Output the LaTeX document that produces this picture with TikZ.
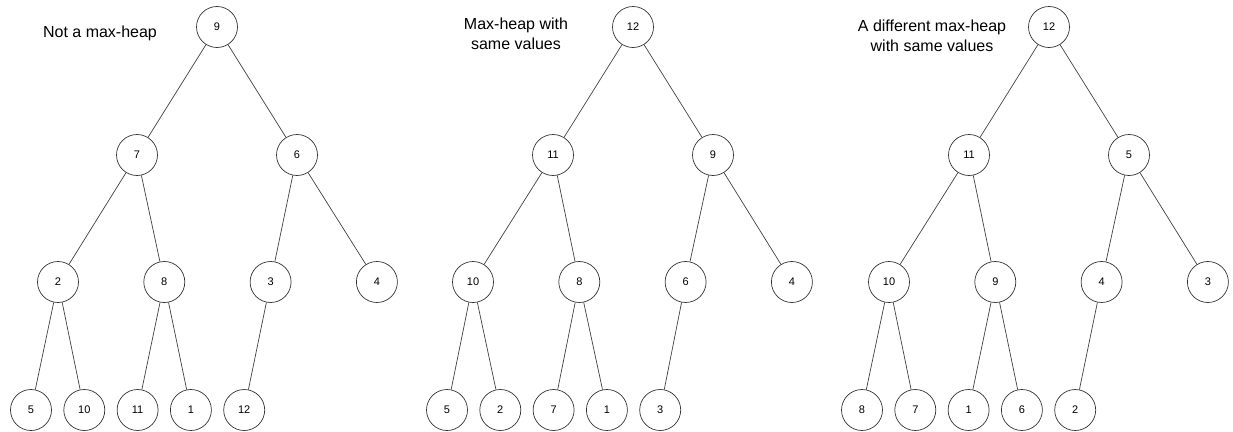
\documentclass[tikz,border=0pt]{standalone}
\usepackage{fontspec}
\setmainfont{Liberation Sans}
\usepackage{tikz}
\usetikzlibrary{positioning}

\begin{document}
\begin{tikzpicture}[
            x=1pt, y=-1pt,
            node distance=11.6pt,
            heapnode/.style = {draw=black!80, circle, line width=0.7pt, minimum size=41pt, inner sep=0pt, font=\fontsize{11}{13}\selectfont},
            caption/.style = {align=center, font=\fontsize{16}{20}\selectfont},
            edge/.style = {draw=black!75, line width=0.7pt}
          ]
          \useasboundingbox (0,0) rectangle (1233,431);

          % first tree: 9 on top
          \node[caption] (t1_caption) at (100,33) {Not a max-heap};
          \node[heapnode] (t1_1) at (217,27) {9};
          \node[heapnode] (t1_2) at (137,155) {7};
          \node[right=of t1_2, xshift=106.7, heapnode] (t1_3) {6};
          \node[heapnode] (t1_4) at (58,282) {2};
          \node[right=of t1_4, xshift=53, heapnode] (t1_5) {8};
          \node[right=of t1_5, xshift=53, heapnode] (t1_6) {3};
          \node[right=of t1_6, xshift=53, heapnode] (t1_7) {4};
          \node[heapnode] (t1_8) at (31,410) {5};
          \node[right=of t1_8, heapnode] (t1_9) {10};
          \node[right=of t1_9, heapnode] (t1_10) {11};
          \node[right=of t1_10, heapnode] (t1_11) {1};
          \node[right=of t1_11, heapnode] (t1_12) {12};

          \draw[edge] (t1_1) -- (t1_2);
          \draw[edge] (t1_1) -- (t1_3);
          \draw[edge] (t1_2) -- (t1_4);
          \draw[edge] (t1_2) -- (t1_5);
          \draw[edge] (t1_3) -- (t1_6);
          \draw[edge] (t1_3) -- (t1_7);
          \draw[edge] (t1_4) -- (t1_8);
          \draw[edge] (t1_4) -- (t1_9);
          \draw[edge] (t1_5) -- (t1_10);
          \draw[edge] (t1_5) -- (t1_11);
          \draw[edge] (t1_6) -- (t1_12);

          % second tree
          \begin{scope}[xshift=416]
          \node[caption] (t2_caption) at (100,34) {Max-heap with\\ same values};
          \node[heapnode] (t2_1) at (217,27) {12};
          \node[heapnode] (t2_2) at (137,155) {11};
          \node[right=of t2_2, xshift=106.7, heapnode] (t2_3) {9};
          \node[heapnode] (t2_4) at (57,282) {10};
          \node[right=of t2_4, xshift=53, heapnode] (t2_5) {8};
          \node[right=of t2_5, xshift=53, heapnode] (t2_6) {6};
          \node[right=of t2_6, xshift=53, heapnode] (t2_7) {4};
          \node[heapnode] (t2_8) at (31,410) {5};
          \node[right=of t2_8, heapnode] (t2_9) {2};
          \node[right=of t2_9, heapnode] (t2_10) {7};
          \node[right=of t2_10, heapnode] (t2_11) {1};
          \node[right=of t2_11, heapnode] (t2_12) {3};

          \draw[edge] (t2_1) -- (t2_2);
          \draw[edge] (t2_1) -- (t2_3);
          \draw[edge] (t2_2) -- (t2_4);
          \draw[edge] (t2_2) -- (t2_5);
          \draw[edge] (t2_3) -- (t2_6);
          \draw[edge] (t2_3) -- (t2_7);
          \draw[edge] (t2_4) -- (t2_8);
          \draw[edge] (t2_4) -- (t2_9);
          \draw[edge] (t2_5) -- (t2_10);
          \draw[edge] (t2_5) -- (t2_11);
          \draw[edge] (t2_6) -- (t2_12);
          \end{scope}

          % third tree
          \begin{scope}[xshift=832]
          \node[caption] (t3_caption) at (100,36) {A different max-heap\\ with same values};
          \node[heapnode] (t3_1) at (217,27) {12};
          \node[heapnode] (t3_2) at (137,155) {11};
          \node[right=of t3_2, xshift=106.7, heapnode] (t3_3) {5};
          \node[heapnode] (t3_4) at (57,282) {10};
          \node[right=of t3_4, xshift=53, heapnode] (t3_5) {9};
          \node[right=of t3_5, xshift=53, heapnode] (t3_6) {4};
          \node[right=of t3_6, xshift=53, heapnode] (t3_7) {3};
          \node[heapnode] (t3_8) at (30,410) {8};
          \node[right=of t3_8, heapnode] (t3_9) {7};
          \node[right=of t3_9, heapnode] (t3_10) {1};
          \node[right=of t3_10, heapnode] (t3_11) {6};
          \node[right=of t3_11, heapnode] (t3_12) {2};

          \draw[edge] (t3_1) -- (t3_2);
          \draw[edge] (t3_1) -- (t3_3);
          \draw[edge] (t3_2) -- (t3_4);
          \draw[edge] (t3_2) -- (t3_5);
          \draw[edge] (t3_3) -- (t3_6);
          \draw[edge] (t3_3) -- (t3_7);
          \draw[edge] (t3_4) -- (t3_8);
          \draw[edge] (t3_4) -- (t3_9);
          \draw[edge] (t3_5) -- (t3_10);
          \draw[edge] (t3_5) -- (t3_11);
          \draw[edge] (t3_6) -- (t3_12);
          \end{scope}
        \end{tikzpicture}
\end{document}
